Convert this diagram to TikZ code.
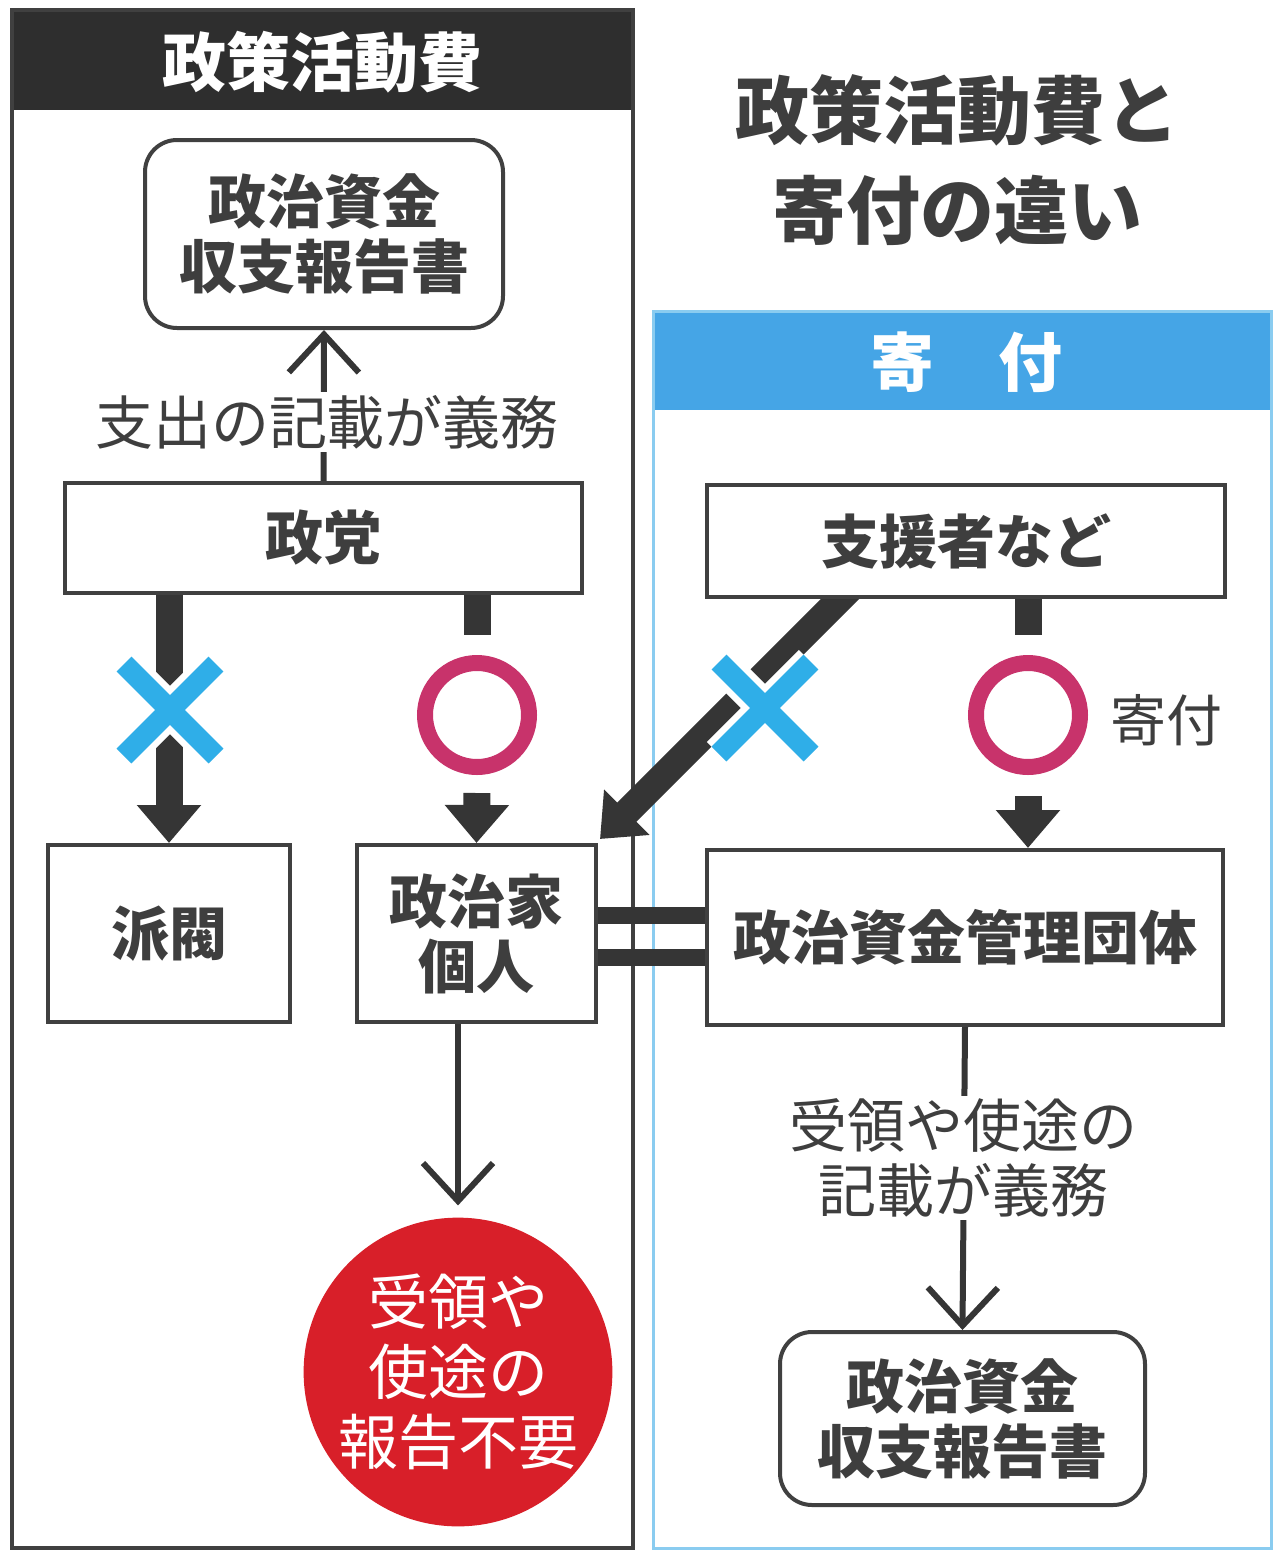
\documentclass[tikz,border=0pt]{standalone}
\usepackage{fontspec}
\newfontfamily\jp{Noto Sans CJK JP}
\usetikzlibrary{arrows.meta,calc}
\pgfdeclarelayer{bg}
\pgfsetlayers{bg,main}
\definecolor{txt}{HTML}{3E3E3E}
\definecolor{boxc}{HTML}{404040}
\definecolor{hdr}{HTML}{2E2E2E}
\definecolor{blu}{HTML}{45A5E6}
\definecolor{bluline}{HTML}{8ACCF0}
\definecolor{xblu}{HTML}{2FAEE8}
\definecolor{ringc}{HTML}{C8336B}
\definecolor{redc}{HTML}{D81F29}
\definecolor{arr}{HTML}{353535}
\tikzset{
  box/.style={draw=boxc, line width=4pt, fill=white, inner sep=0pt, align=center, text=txt,
    font=\jp\bfseries\fontsize{58}{65}\selectfont},
  rbox/.style={box, rounded corners=32pt},
  ring/.style={circle, draw=ringc, line width=16pt, minimum size=104pt, inner sep=0pt},
  thickarrow/.style={draw=arr, line width=27pt, -{Triangle[length=38pt,width=62pt]}},
  thickstub/.style={draw=arr, line width=27pt},
  thinarrow/.style={draw=arr, line width=6pt, -{Straight Barb[length=38pt,width=70pt]}},
  lab/.style={fill=white, inner sep=3pt, text=txt, align=center, font=\jp\fontsize{58}{65}\selectfont},
  hdrtext/.style={text=white, font=\jp\bfseries\fontsize{64}{70}\selectfont},
  bar/.style={draw=arr, line width=17pt},
}
\newcommand\crossmark[1]{%
  \draw[white, line width=34pt] ($(#1)+(-46,-46)$) -- ($(#1)+(46,46)$) ($(#1)+(-46,46)$) -- ($(#1)+(46,-46)$);
  \draw[xblu, line width=21pt] ($(#1)+(-46,-46)$) -- ($(#1)+(46,46)$) ($(#1)+(-46,46)$) -- ($(#1)+(46,-46)$);
}
\begin{document}
\begin{tikzpicture}[x=1pt, y=-1pt]
\useasboundingbox (0,0) rectangle (1274,1551);
% panels
\begin{pgfonlayer}{bg}
  \fill[white] (0,0) rectangle (1274,1551);
  \fill[hdr] (12,10) rectangle (633,110);
  \draw[boxc, line width=4pt] (12,10) rectangle (633,1548);
  \fill[blu] (653,311) rectangle (1271,410);
  \draw[bluline, line width=3pt] (653,311) rectangle (1271,1548);
\end{pgfonlayer}
\node[hdrtext] (hdrL) at (322,62) {政策活動費};
\node[hdrtext] (hdrR) at (966,362) {寄　付};
\node[text=txt, align=center, font=\jp\bfseries\fontsize{74}{100}\selectfont] (title) at (957,160) {政策活動費と\\寄付の違い};

% nodes
\node[rbox, minimum width=358pt, minimum height=188pt] (rep1) at (324,234) {政治資金\\収支報告書};
\node[box, minimum width=517pt, minimum height=110pt] (seito) at (323.5,538) {政党};
\node[box, minimum width=242pt, minimum height=177pt] (habatsu) at (169,933.5) {派閥};
\node[box, minimum width=239pt, minimum height=177pt] (kojin) at (476.5,933.5) {政治家\\個人};
\node[box, minimum width=518pt, minimum height=112pt] (shien) at (966,541) {支援者など};
\node[box, minimum width=516pt, minimum height=175pt] (kanri) at (965,937.5) {政治資金管理団体};
\node[rbox, minimum width=365pt, minimum height=173pt] (rep2) at (962.5,1418.5) {政治資金\\収支報告書};
\node[circle, fill=redc, minimum size=300pt, inner sep=0pt, text=white, align=center,
  font=\jp\fontsize{60}{70}\selectfont] (red) at (458,1372) {受領や\\使途の\\報告不要};
\node[ring] (ring1) at (477,715) {};
\node[ring] (ring2) at (1028,715) {};
\node[text=txt, font=\jp\fontsize{56}{60}\selectfont] (kifu) at (1166,720) {寄付};
\coordinate (x1) at (170,710);
\coordinate (x2) at (765,708);
\coordinate (dstart) at ($(shien.south west)+(147,-12)$);

% connectors
\begin{pgfonlayer}{bg}
  \draw[thinarrow] (seito.north) -- (rep1.south);
  \draw[thickarrow] (seito.south -| habatsu) -- (habatsu.north);
  \draw[thickstub, shorten >=20pt] (seito.south -| ring1) -- (ring1.north);
  \draw[thickarrow, shorten <=18pt] (ring1.south) -- (kojin.north);
  \draw[thickstub, shorten >=20pt] (shien.south -| ring2) -- (ring2.north);
  \draw[thickarrow, shorten <=21pt] (ring2.south) -- (ring2.south |- kanri.north);
  \draw[thickarrow] (dstart) -- ([shift={(2pt,4pt)}]kojin.north east);
  \draw[thinarrow, shorten >=12pt] (kojin.south -| red) -- (red.north);
  \draw[thinarrow] (kanri.south) -- (rep2.north);
\end{pgfonlayer}
\node[lab] (lab1) at (327,422) {支出の記載が義務};
\node[lab] (lab2) at (963,1158) {受領や使途の\\記載が義務};
\crossmark{x1}
\crossmark{x2}
\draw[bar] ([yshift=18.5pt]kojin.east) -- ([yshift=18.5pt]kojin.east -| kanri.west);
\draw[bar] ([yshift=-23.5pt]kojin.east) -- ([yshift=-23.5pt]kojin.east -| kanri.west);
\end{tikzpicture}
\end{document}
